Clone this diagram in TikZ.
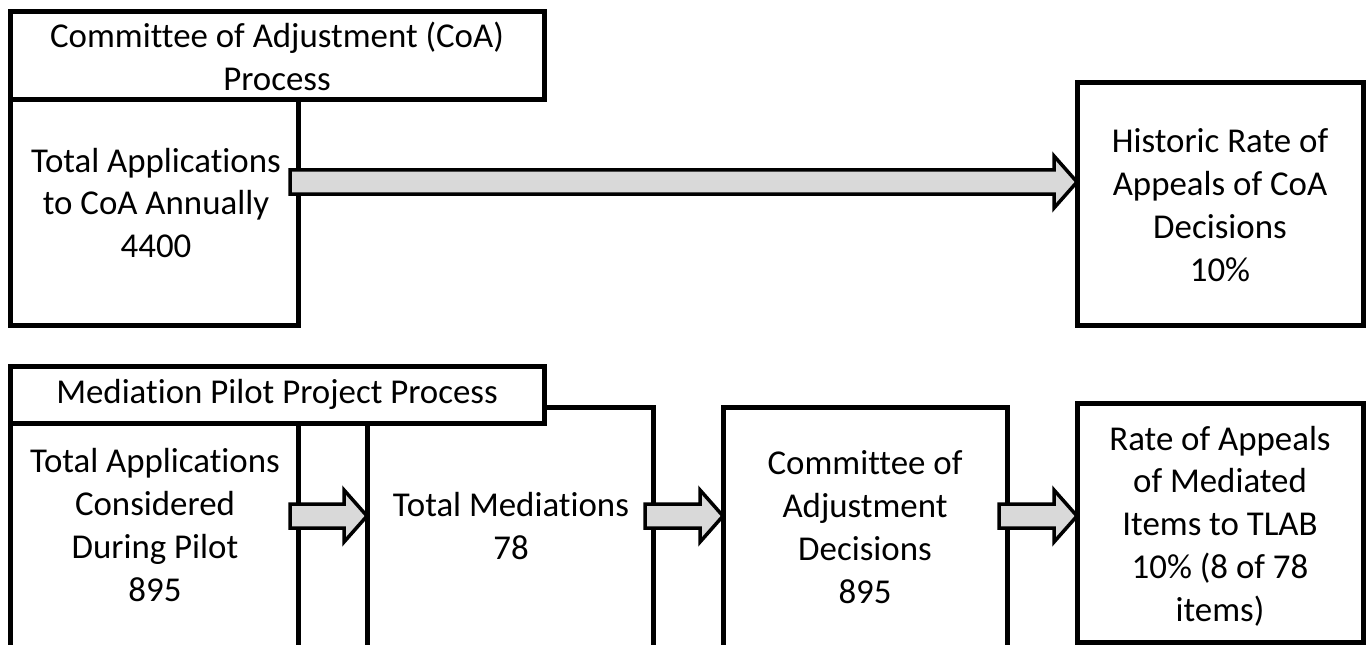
\documentclass[tikz,border=0pt]{standalone}
\usepackage{fontspec}
\setmainfont[Ligatures=NoCommon]{Carlito}
\usetikzlibrary{calc}
\tikzset{
  frame/.style={rectangle, draw=black, line width=5bp, fill=white, inner sep=0pt, outer sep=0pt, anchor=north west},
  boxtext/.style={align=center, inner sep=0pt, font=\fontsize{35}{43}\selectfont},
  fatarrow/.style={draw=black, line width=3.5bp, fill=black!15, line join=miter}
}
% block arrow from the right side of #1 to the left side of #2, at height #3
\newcommand{\blockarrow}[3]{%
  \draw[fatarrow] let \p1=($(#1.east |- 0,#3)+(-8,0)$), \p2=(#2.west |- 0,#3) in
    (\x1,\y1+12bp) -- (\x2-23bp,\y1+12bp) -- (\x2-23bp,\y1+26bp) -- (\x2,\y1)
    -- (\x2-23bp,\y1-26bp) -- (\x2-23bp,\y1-12bp) -- (\x1,\y1-12bp) -- cycle;}

\begin{document}
\begin{tikzpicture}[x=1bp, y=-1bp]
  \useasboundingbox (0,0) rectangle (1372,645);
  \clip (0,0) rectangle (1372,645);

  % --- Upper row: CoA process ---
  \node[frame, minimum width=288bp, minimum height=225bp] (coaApps) at (10,100) {};
  \node[frame, boxtext, minimum width=534bp, minimum height=88bp] (coaHead) at (10,12) {Committee of Adjustment (CoA)\\Process};
  \node[frame, minimum width=286bp, minimum height=242bp] (coaRate) at (1077,83) {};
  \node[boxtext] (coaAppsTxt) at (156,203) {Total Applications\\to CoA Annually\\4400};
  \node[boxtext] (coaRateTxt) at (1220,205) {Historic Rate of\\Appeals of CoA\\Decisions\\10\%};

  \blockarrow{coaApps}{coaRate}{182}

  % --- Lower row: mediation pilot ---
  \node[frame, minimum width=286bp, minimum height=260bp] (medCount) at (367,407) {};
  \node[frame, minimum width=284bp, minimum height=260bp] (medCoA) at (723,407) {};
  \node[frame, minimum width=286bp, minimum height=239bp] (medRate) at (1077,403) {};
  \node[frame, minimum width=288bp, minimum height=240bp] (medApps) at (10,423) {};
  \node[frame, boxtext, minimum width=534bp, minimum height=57bp] (medHead) at (10,366) {Mediation Pilot Project Process};

  \node[boxtext] (medAppsTxt) at (155,525) {Total Applications\\Considered\\During Pilot\\895};
  \node[boxtext] (medCountTxt) at (511,526) {Total Mediations\\78};
  \node[boxtext] (medCoATxt) at (865,527) {Committee of\\Adjustment\\Decisions\\895};
  \node[boxtext] (medRateTxt) at (1220,526) {Rate of Appeals\\of Mediated\\Items to TLAB\\10\% (8 of 78\\items)};

  \blockarrow{medApps}{medCount}{516}
  \blockarrow{medCount}{medCoA}{516}
  \blockarrow{medCoA}{medRate}{516}
\end{tikzpicture}
\end{document}
